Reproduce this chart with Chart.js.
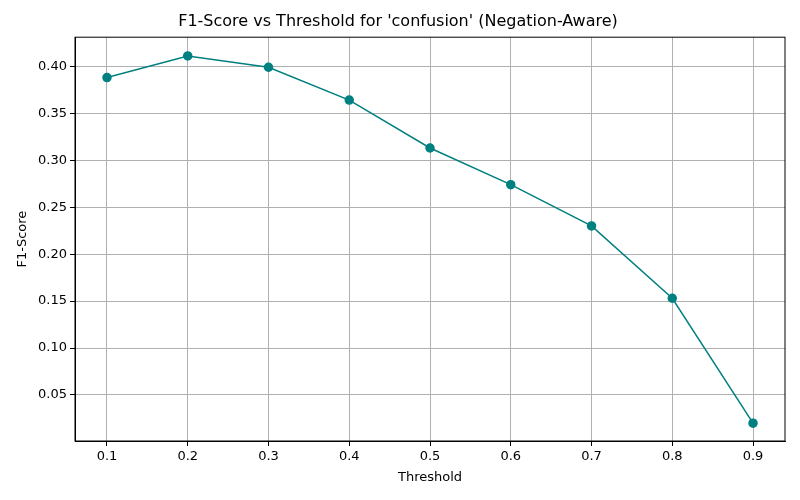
<!DOCTYPE html>
<html><head><script src="https://cdn.jsdelivr.net/npm/chart.js@4"></script>
<style>body{margin:0;background:#fff}#w{width:800px;height:500px}</style></head>
<body><div id="w"><canvas id="c"></canvas></div>
<script>
const thresholds=[0.1,0.2,0.3,0.4,0.5,0.6,0.7,0.8,0.9];
const f1Scores=[0.388,0.411,0.399,0.364,0.313,0.274,0.230,0.153,0.020];
const xTicks=[0.1,0.2,0.3,0.4,0.5,0.6,0.7,0.8,0.9];
const yTicks=[0.05,0.10,0.15,0.20,0.25,0.30,0.35,0.40];
const frame={id:'frame',afterDraw(ch){const a=ch.chartArea,c=ch.ctx;c.save();c.strokeStyle='#000';c.lineWidth=1;c.strokeRect(a.left,a.top,a.right-a.left,a.bottom-a.top);c.restore();}};
const font={family:'DejaVu Sans',size:13};
new Chart(document.getElementById('c'),{type:'line',
data:{datasets:[{data:thresholds.map((x,i)=>({x,y:f1Scores[i]})),borderColor:'#008080',backgroundColor:'#008080',pointRadius:4,pointHoverRadius:4,borderWidth:1.5,tension:0}]},
options:{responsive:true,maintainAspectRatio:false,animation:false,
layout:{padding:{left:11,right:15,top:0,bottom:11}},
plugins:{legend:{display:false},tooltip:{enabled:false},
title:{display:true,text:"F1-Score vs Threshold for 'confusion' (Negation-Aware)",color:'#000',font:{family:'DejaVu Sans',size:16,weight:'normal'},padding:{top:12,bottom:6}}},
scales:{
x:{type:'linear',min:0.0604,max:0.9396,afterBuildTicks:s=>{s.ticks=xTicks.map(v=>({value:v}));},
ticks:{color:'#000',font,callback:v=>v.toFixed(1),maxRotation:0},
grid:{color:'#b0b0b0',tickColor:'#000',tickLength:5},border:{color:'#000'},
title:{display:true,text:'Threshold',color:'#000',font,padding:{top:4}},
afterFit:s=>{s.height=48;}},
y:{min:0.001,max:0.431,afterBuildTicks:s=>{s.ticks=yTicks.map(v=>({value:v}));},
ticks:{color:'#000',font,callback:v=>v.toFixed(2)},
grid:{color:'#b0b0b0',tickColor:'#000',tickLength:5},border:{color:'#000'},
title:{display:true,text:'F1-Score',color:'#000',font,padding:{bottom:4}},
afterFit:s=>{s.width=64;}}}},
plugins:[frame]});
</script></body></html>
